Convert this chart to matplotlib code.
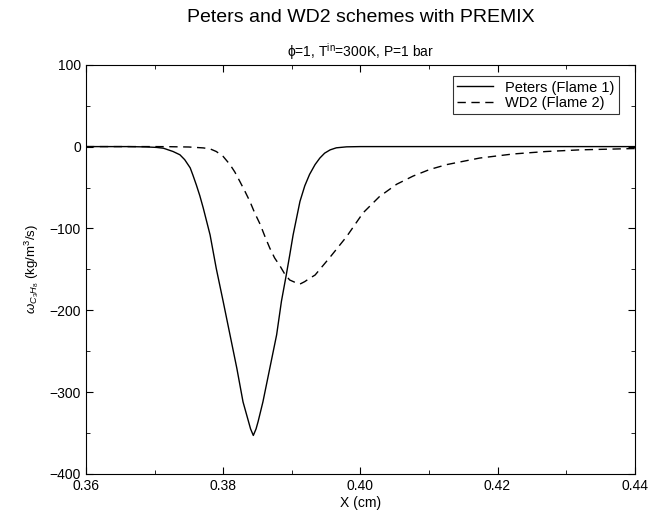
"""
Peters vs WD2 fuel consumption rate (PREMIX)
Run: python plot.py
"""

import matplotlib.pyplot as plt
from matplotlib.ticker import MultipleLocator

plt.rcParams['font.family'] = ['Liberation Sans', 'DejaVu Sans']
plt.rcParams['mathtext.fontset'] = 'custom'
plt.rcParams['mathtext.rm'] = 'Liberation Sans'
plt.rcParams['mathtext.it'] = 'Liberation Sans:italic'

# Peters (Flame 1)
x_peters = [0.360, 0.366, 0.3688, 0.3703, 0.3713, 0.3727, 0.3737, 0.3744, 0.3752,
            0.3756, 0.3761, 0.3766, 0.3771, 0.3781, 0.3790, 0.3800, 0.3810,
            0.3820, 0.3829, 0.3837, 0.3840, 0.3844, 0.3848, 0.3851, 0.3858,
            0.3868, 0.3878, 0.3885, 0.3892, 0.3897, 0.3902, 0.3912, 0.3919,
            0.3926, 0.3934, 0.3941, 0.3948, 0.3956, 0.3965, 0.3980, 0.400, 0.440]
w_peters = [0, 0, -0.4, -1, -2, -6, -10, -16, -26,
            -35, -47, -60, -75, -108, -149, -189, -230,
            -271, -312, -336, -345, -353, -345, -336, -312,
            -271, -230, -189, -157, -133, -108, -67, -48,
            -34, -22, -14, -8, -4, -1.5, -0.3, 0, 0]

# WD2 (Flame 2)
x_wd2 = [0.360, 0.370, 0.372, 0.375, 0.3771, 0.3781, 0.3790, 0.3800, 0.3810,
         0.3817, 0.3824, 0.3832, 0.3839, 0.3846, 0.3854, 0.3861, 0.3868,
         0.3875, 0.3883, 0.3890, 0.3897, 0.3905, 0.3912, 0.3919, 0.3926,
         0.3934, 0.3941, 0.3948, 0.3956, 0.3980, 0.4004, 0.4028, 0.4053,
         0.4077, 0.4101, 0.4126, 0.4174, 0.4223, 0.4271, 0.4320, 0.4393, 0.440]
w_wd2 = [0, 0, -0.1, -0.5, -1.6, -2.8, -6, -12, -22,
         -31, -42, -55, -67, -81, -95, -110, -124,
         -136, -146, -156, -163, -166, -168, -165, -161,
         -157, -150, -143, -135, -110, -81, -61, -46,
         -36, -28, -22, -14, -9, -6, -4, -2.5, -2.4]

fig = plt.figure(figsize=(6.51, 5.14), dpi=100)
ax = fig.add_axes([0.132, 0.078, 0.843, 0.796])

ax.plot(x_peters, w_peters, color='black', lw=1.0, label='Peters (Flame 1)')
ax.plot(x_wd2, w_wd2, color='black', lw=1.0, dashes=(6, 4), label='WD2 (Flame 2)')

ax.set_xlim(0.36, 0.44)
ax.set_ylim(-400, 100)
ax.xaxis.set_major_locator(MultipleLocator(0.02))
ax.xaxis.set_minor_locator(MultipleLocator(0.01))
ax.yaxis.set_major_locator(MultipleLocator(100))
ax.yaxis.set_minor_locator(MultipleLocator(50))
ax.xaxis.set_major_formatter(plt.FormatStrFormatter('%.2f'))
ax.tick_params(which='both', direction='in', top=True, right=True, labelsize=10)
ax.tick_params(which='major', length=5)
ax.tick_params(which='minor', length=3)
ax.set_yticklabels([f'{int(v)}'.replace('-', '\u2212') for v in ax.get_yticks()])

ax.set_xlabel('X (cm)', fontsize=10, labelpad=2)
ax.set_ylabel(r'$\omega_{C_3H_8}$ (kg/m$^3$/s)', fontsize=9.5, labelpad=6)

# titles are centred over the plot area, not the figure
xc = 0.132 + 0.843 / 2
fig.text(xc, 0.965, 'Peters and WD2 schemes with PREMIX', ha='center', va='center',
         fontsize=14)
fig.text(xc, 0.899, '\u03d5=1, T$^{\\mathrm{in}}$=300K, P=1 bar', ha='center',
         va='center', fontsize=10)

leg = ax.legend(loc='upper right', bbox_to_anchor=(0.971, 0.972), fontsize=10.5,
                frameon=True, fancybox=False, edgecolor='black', handlelength=2.5,
                borderpad=0.3, labelspacing=0.1, borderaxespad=0)
leg.get_frame().set_linewidth(0.8)

fig.savefig('out.png', dpi=100)
